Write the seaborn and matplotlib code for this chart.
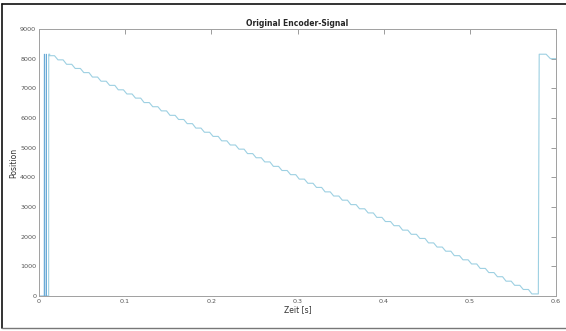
import numpy as np
import pandas as pd
import matplotlib
matplotlib.use("Agg")
import matplotlib.pyplot as plt
import seaborn as sns
from matplotlib.lines import Line2D

# Startzeitpunkte der Treppenstufen [s] und Positionswerte der Stufen
step_t = [0.012, 0.022, 0.032, 0.042, 0.052, 0.062, 0.072, 0.082, 0.092, 0.102,
          0.112, 0.122, 0.132, 0.142, 0.152, 0.162, 0.172, 0.182, 0.192, 0.202,
          0.212, 0.222, 0.232, 0.242, 0.252, 0.262, 0.272, 0.282, 0.292, 0.302,
          0.312, 0.322, 0.332, 0.342, 0.352, 0.362, 0.372, 0.382, 0.392, 0.402,
          0.412, 0.422, 0.432, 0.442, 0.452, 0.462, 0.472, 0.482, 0.492, 0.502,
          0.512, 0.522, 0.532, 0.542, 0.552, 0.562, 0.572]
step_pos = [8100, 7960, 7810, 7670, 7530, 7380, 7240, 7100, 6950, 6810,
            6670, 6520, 6380, 6240, 6090, 5950, 5810, 5660, 5520, 5380,
            5230, 5090, 4950, 4800, 4660, 4520, 4370, 4230, 4090, 3940,
            3800, 3660, 3510, 3370, 3230, 3080, 2940, 2800, 2650, 2510,
            2370, 2220, 2080, 1940, 1790, 1650, 1510, 1360, 1220, 1080,
            930, 790, 650, 500, 360, 220, 70]

# Anfangsbereich (Spruenge zwischen 0 und Maximum)
start_t = [0.0, 0.0060, 0.0061, 0.0065, 0.0066, 0.0082, 0.0083, 0.0086, 0.0087, 0.0112]
start_pos = [0, 0, 8150, 8150, 0, 0, 8150, 8150, 0, 0]

# Ende: Sprung zurueck auf Maximum
end_t = [0.5795, 0.5805, 0.5885, 0.5935, 0.6]
end_pos = [70, 8150, 8150, 8000, 8000]

flat = 0.006  # Anteil der flachen Stufe

t_main = [0.0112, 0.0113, 0.0125]
p_main = [0, 8150, 8150]
for t0, p in zip(step_t, step_pos):
    t_main += [t0, t0 + flat]
    p_main += [p, p]
t_main += end_t
p_main += end_pos

df_main = pd.DataFrame({"t": t_main, "pos": p_main})
df_start = pd.DataFrame({"t": start_t, "pos": start_pos})

sns.set_style("white")
plt.rcParams['font.family'] = ['DejaVu Sans']

fig = plt.figure(figsize=(5.66, 3.31), dpi=100)
ax = fig.add_axes([39 / 566, 35 / 331, 517 / 566, 267 / 331])

sns.lineplot(data=df_start, x="t", y="pos", ax=ax, sort=False, estimator=None,
             color="#6aaad6", linewidth=0.6)
sns.lineplot(data=df_main, x="t", y="pos", ax=ax, sort=False, estimator=None,
             color="#9dd0e2", linewidth=0.8)

ax.set_xlim(0, 0.6)
ax.set_ylim(0, 9000)
ax.set_xticks([0, 0.1, 0.2, 0.3, 0.4, 0.5, 0.6])
ax.set_xticklabels(["0", "0.1", "0.2", "0.3", "0.4", "0.5", "0.6"])
ax.set_yticks(range(0, 9001, 1000))
ax.set_title("Original Encoder-Signal", fontsize=5.5, fontweight="bold", pad=2)
ax.set_xlabel("Zeit [s]", fontsize=5.5, labelpad=1, color="#333333")
ax.set_ylabel("Position", fontsize=5.5, labelpad=1, color="#333333")
ax.tick_params(direction="in", length=3.5, width=0.6, color="#8c8c8c",
               labelsize=4.6, labelcolor="#555555", top=True, right=True, pad=2)
for s in ax.spines.values():
    s.set_color("#a0a0a0")
    s.set_linewidth(0.7)

# Rahmen um die Abbildung (oben, links, unten)
x0, y0, y1 = 2 / 566, 3 / 331, 327 / 331
fig.lines.append(Line2D([x0, 1.0], [y1, y1], transform=fig.transFigure, color="#111111", lw=1.2))
fig.lines.append(Line2D([x0, x0], [y0, y1], transform=fig.transFigure, color="#111111", lw=1.2))
fig.lines.append(Line2D([x0, 1.0], [y0, y0], transform=fig.transFigure, color="#777777", lw=1.0))

plt.savefig("out.png", dpi=100)
plt.close()
